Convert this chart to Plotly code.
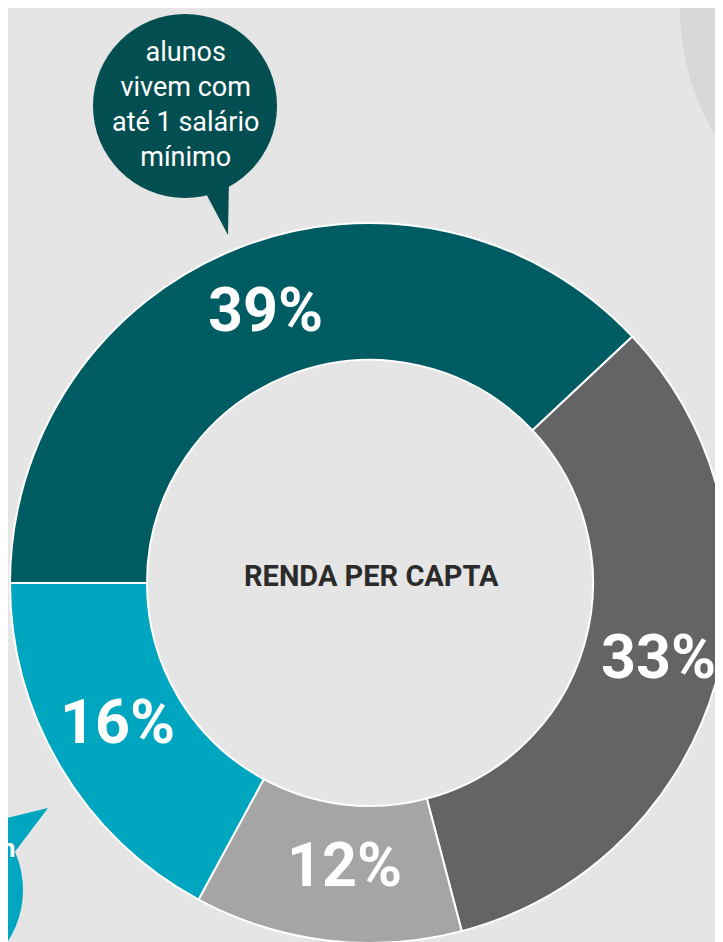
import plotly.graph_objects as go

W, H = 723, 942
OX, OY = 8, 8  # page offset of the figure inside the browser window

# ---- data ----
categories = ["Até 1 salário mínimo", "Faixa 2", "Faixa 3", "Faixa 4"]
# slice shares as drawn in the picture (angles measured), labels as printed
slice_shares = [38.0, 32.9, 12.0, 17.1]
value_labels = ["39%", "33%", "12%", "16%"]
slice_colors = ["#005c63", "#646466", "#a5a5a5", "#00a5bf"]
center_title = "RENDA PER CAPTA"
bubble_text = "alunos<br>vivem com<br>até 1 salário<br>mínimo"

# ---- geometry helpers (screen pixel -> paper) ----
def px(x):
    return (x - OX) / W

def py(y):
    return 1 - (y - OY) / H

cx, cy, R = 370, 583, 360
hole = 223 / 360

fig = go.Figure()
fig.add_trace(go.Pie(
    labels=categories,
    values=slice_shares,
    text=value_labels,
    sort=False,
    direction="clockwise",
    rotation=-90,
    hole=hole,
    marker=dict(colors=slice_colors, line=dict(color="white", width=2)),
    textinfo="none",
    hoverinfo="label+text",
    showlegend=False,
    domain=dict(x=[px(cx - R), px(cx + R)], y=[py(cy + R), py(cy - R)]),
))

shapes = []
# big pale circle top right
shapes.append(dict(type="circle", xref="paper", yref="paper",
                   x0=px(680), x1=px(1160), y0=py(250), y1=py(-230),
                   fillcolor="#d6d9d5", line=dict(width=0), layer="below"))
# dark speech bubble
shapes.append(dict(type="circle", xref="paper", yref="paper",
                   x0=px(93), x1=px(277), y0=py(198), y1=py(14),
                   fillcolor="#034e51", line=dict(width=0), layer="below"))
shapes.append(dict(type="path", xref="paper", yref="paper",
                   path=f"M {px(203)} {py(188)} L {px(229)} {py(176)} L {px(228)} {py(235)} Z",
                   fillcolor="#034e51", line=dict(width=0), layer="below"))
# cyan speech bubble bottom left
shapes.append(dict(type="circle", xref="paper", yref="paper",
                   x0=px(-167), x1=px(23), y0=py(985), y1=py(795),
                   fillcolor="#00a5bf", line=dict(width=0), layer="below"))
shapes.append(dict(type="path", xref="paper", yref="paper",
                   path=f"M {px(-10)} {py(822)} L {px(48)} {py(808)} L {px(14)} {py(853)} L {px(-10)} {py(860)} Z",
                   fillcolor="#00a5bf", line=dict(width=0), layer="below"))
# tiny mark on right edge
shapes.append(dict(type="line", xref="paper", yref="paper",
                   x0=px(719), y0=py(701), x1=px(724), y1=py(711),
                   line=dict(color="#666666", width=2), layer="below"))

label_pos = [(265, 310), (658, 657), (344, 865), (118, 722)]
annotations = []
for txt, (lx, ly) in zip(value_labels, label_pos):
    annotations.append(dict(x=px(lx), y=py(ly), xref="paper", yref="paper",
                            text=f"<b>{txt}</b>", showarrow=False,
                            xanchor="center", yanchor="middle",
                            font=dict(family="Roboto", size=61, color="white")))
annotations.append(dict(x=px(371), y=py(576), xref="paper", yref="paper",
                        text=f"<b>{center_title}</b>", showarrow=False,
                        xanchor="center", yanchor="middle",
                        font=dict(family="Roboto", size=29, color="#2b2b2b")))
annotations.append(dict(x=px(185), y=py(105), xref="paper", yref="paper",
                        text=bubble_text, showarrow=False,
                        xanchor="center", yanchor="middle", align="center",
                        font=dict(family="Roboto", size=27, color="white")))
annotations.append(dict(x=px(18), y=py(848), xref="paper", yref="paper",
                        text="<b>m</b>", showarrow=False,
                        xanchor="right", yanchor="middle",
                        font=dict(family="Roboto", size=26, color="white")))

fig.update_layout(
    width=W, height=H,
    margin=dict(l=0, r=0, t=0, b=0),
    paper_bgcolor="#e5e5e5",
    plot_bgcolor="#e5e5e5",
    shapes=shapes,
    annotations=annotations,
    showlegend=False,
)

fig.write_html("out.html")
